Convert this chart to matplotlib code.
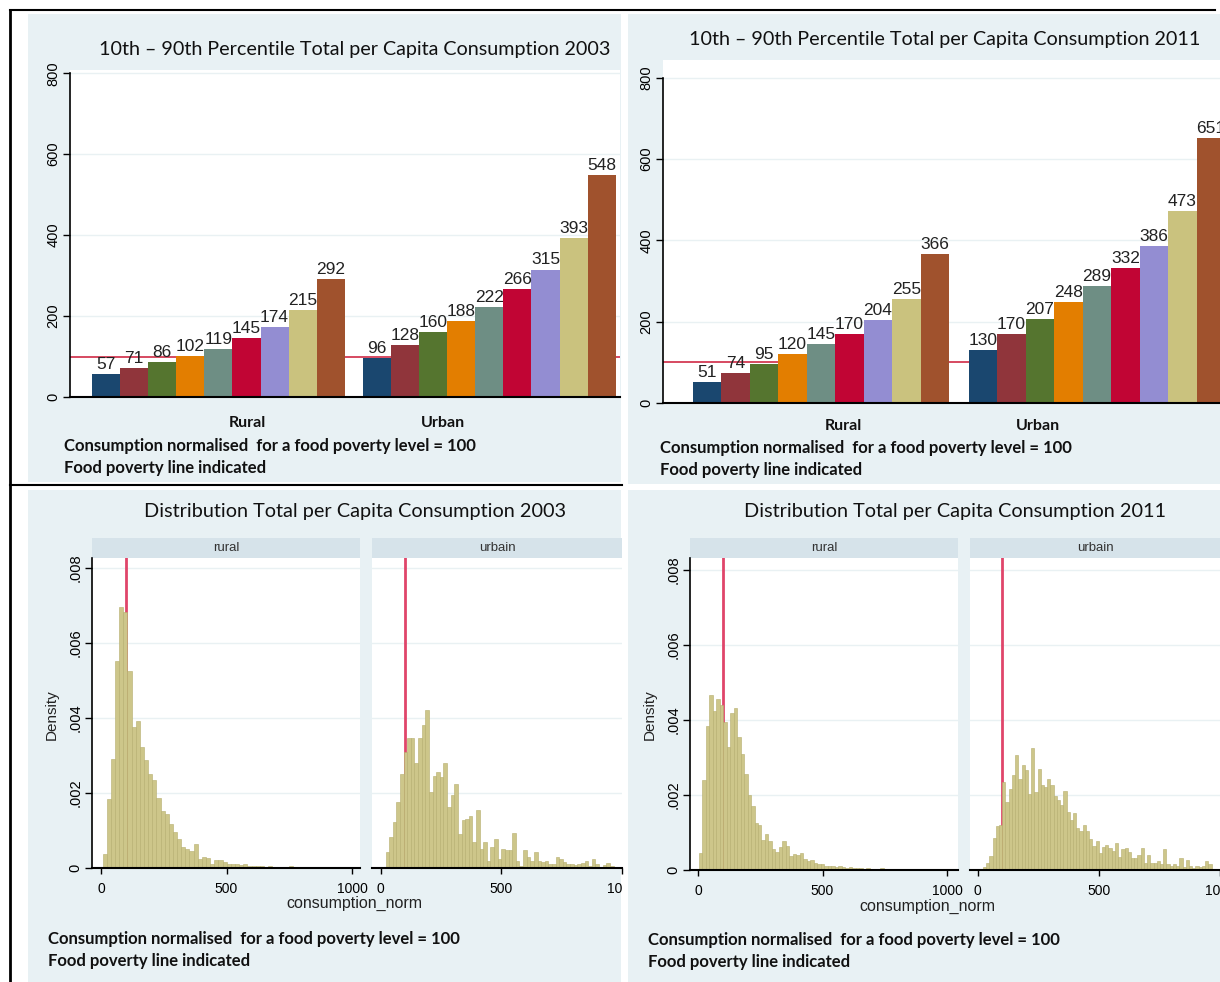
import numpy as np
import matplotlib
matplotlib.use('Agg')
import matplotlib.pyplot as plt
from matplotlib.patches import Rectangle
from matplotlib.lines import Line2D
from matplotlib.transforms import Bbox

W, H = 1220, 982

# ---- percentile bar data (10th..90th) ----
groups = ['Rural', 'Urban']
pct_rural_2003 = [57, 71, 86, 102, 119, 145, 174, 215, 292]
pct_urban_2003 = [96, 128, 160, 188, 222, 266, 315, 393, 548]
pct_rural_2011 = [51, 74, 95, 120, 145, 170, 204, 255, 366]
pct_urban_2011 = [130, 170, 207, 248, 289, 332, 386, 473, 651]
poverty_line = 100
bar_colors = ['#1a476f', '#90353b', '#55752f', '#e37e00', '#6e8e84',
              '#c10534', '#938dd2', '#cac27e', '#a0522d']

# ---- histogram densities (x 1e-3), read per bin ----
rural_2003_start, rural_2003_width = 6, 16.5
rural_2003 = [0.37, 1.84, 2.92, 5.53, 6.97, 6.84, 5.26, 3.75, 3.91, 3.22, 2.88, 2.51,
              2.35, 1.88, 1.51, 1.45, 1.17, 0.95, 0.77, 0.55, 0.51, 0.46, 0.64, 0.24,
              0.30, 0.28, 0.11, 0.21, 0.21, 0.15, 0.11, 0.12, 0.12, 0.08, 0.10, 0.06,
              0.06, 0.05, 0.05, 0.04, 0.05, 0.03, 0.04, 0.03, 0.02, 0.05, 0.02, 0.03,
              0.02, 0.03, 0.02, 0.02, 0.04, 0.02, 0.02, 0.01, 0.02, 0.02, 0.01, 0.02]

urban_2003_start, urban_2003_width = 20, 15
urban_2003 = [0.42, 0.82, 1.23, 1.76, 2.52, 3.10, 3.46, 3.46, 2.79, 3.46, 3.82, 4.22,
              2.03, 2.45, 2.57, 2.43, 2.79, 1.63, 1.94, 2.25, 0.91, 1.27, 1.32, 1.40,
              0.69, 1.56, 0.51, 0.69, 0.20, 0.55, 0.78, 0.24, 0.51, 0.47, 0.47, 0.93,
              0.20, 0.06, 0.47, 0.29, 0.20, 0.42, 0.20, 0.15, 0.20, 0.11, 0.11, 0.29,
              0.24, 0.15, 0.11, 0.11, 0.08, 0.11, 0.13, 0.20, 0.06, 0.24, 0.11, 0.04,
              0.09, 0.13, 0.06]

rural_2011_start, rural_2011_width = 3, 14
rural_2011 = [0.45, 2.40, 3.85, 4.68, 4.25, 4.56, 4.40, 3.95, 3.28, 4.18, 4.32, 3.55,
              3.10, 2.55, 2.00, 1.70, 1.25, 1.20, 0.80, 0.95, 0.78, 0.55, 0.48, 0.62,
              0.78, 0.65, 0.38, 0.42, 0.40, 0.45, 0.30, 0.24, 0.26, 0.20, 0.15, 0.15,
              0.12, 0.12, 0.10, 0.08, 0.10, 0.07, 0.06, 0.08, 0.06, 0.05, 0.06, 0.04,
              0.05, 0.04, 0.04, 0.03, 0.05, 0.03, 0.03, 0.04, 0.02, 0.03, 0.02, 0.03,
              0.02, 0.02, 0.03, 0.02, 0.01, 0.02, 0.02, 0.01, 0.01, 0.02, 0.01]

urban_2011_start, urban_2011_width = 21, 13.3
urban_2011 = [0.09, 0.18, 0.38, 0.86, 1.17, 1.19, 2.35, 1.82, 2.16, 2.53, 3.07, 2.44,
              2.79, 2.68, 2.04, 3.25, 2.09, 2.70, 2.28, 2.22, 2.44, 2.26, 1.98, 1.87,
              1.74, 2.11, 1.56, 1.34, 1.52, 1.12, 1.04, 1.19, 1.04, 0.82, 0.64, 0.77,
              0.45, 0.62, 0.66, 0.60, 0.52, 0.72, 0.36, 0.55, 0.60, 0.49, 0.32, 0.32,
              0.41, 0.58, 0.19, 0.41, 0.19, 0.19, 0.23, 0.15, 0.55, 0.15, 0.10, 0.15,
              0.12, 0.32, 0.09, 0.28, 0.10, 0.06, 0.10, 0.09, 0.10, 0.23, 0.15]

note1 = 'Consumption normalised  for a food poverty level = 100'
note2 = 'Food poverty line indicated'

BG = '#e8f1f4'
STRIP = '#d6e3ea'
GRID = '#e9f1f3'
HIST = '#cdc68a'
RED_TOP = '#d02a45'
RED_HIST = '#e0456a'
TITLE_FONT = ['Lato', 'DejaVu Sans']

plt.rcParams['font.family'] = ['Liberation Sans', 'DejaVu Sans']

fig = plt.figure(figsize=(W / 100, H / 100), dpi=100)


def box(x0, y0, x1, y1):
    return [x0 / W, 1 - y1 / H, (x1 - x0) / W, (y1 - y0) / H]


def rect(x0, y0, x1, y1, color):
    fig.add_artist(Rectangle((x0 / W, 1 - y1 / H), (x1 - x0) / W, (y1 - y0) / H,
                             transform=fig.transFigure, color=color, lw=0, zorder=-5))


def line(x0, y0, x1, y1, lw=1.5):
    fig.add_artist(Line2D([x0 / W, x1 / W], [1 - y0 / H, 1 - y1 / H],
                          transform=fig.transFigure, color='black', lw=lw, zorder=10))


def text(x, y, s, **kw):
    return fig.text(x / W, 1 - y / H, s, **kw)


# backgrounds
rect(28, 14, 621, 482, BG)
rect(628, 14, 1220, 484, BG)
rect(28, 490, 621, 982, BG)
rect(628, 490, 1220, 982, BG)

# frame
line(10, 10, 10, 982, lw=2)
line(10, 10, 1215, 10)
line(10, 485, 622, 485)


def bar_panel(b, rural, urban, offset, xlim, ytop, title, title_xy, rural_x, urban_x, lab_y, note_x, note_y):
    ax = fig.add_axes(box(*b))
    pos_r = np.arange(len(rural))
    pos_u = np.arange(len(urban)) + offset
    ax.axhline(poverty_line, color=RED_TOP, lw=1.2, zorder=1)
    ax.bar(pos_r, rural, width=1.0, color=bar_colors, zorder=2)
    ax.bar(pos_u, urban, width=1.0, color=bar_colors, zorder=2)
    for p, v in list(zip(pos_r, rural)) + list(zip(pos_u, urban)):
        ax.text(p, v + 5, str(v), ha='center', va='bottom', fontsize=12.5,
                color='#222222', zorder=3)
    ax.set_xlim(*xlim)
    ax.set_ylim(0, ytop)
    ax.set_yticks([0, 200, 400, 600, 800])
    ax.set_xticks([])
    ax.grid(axis='y', color=GRID, lw=1)
    ax.set_axisbelow(True)
    for s in ['top', 'right']:
        ax.spines[s].set_visible(False)
    ax.spines['left'].set_bounds(0, 800)
    ax.spines['left'].set_linewidth(1.2)
    ax.spines['bottom'].set_linewidth(1.5)
    ax.tick_params(axis='y', labelrotation=90, labelsize=10.5, length=5, width=1, pad=2)
    for t in ax.get_yticklabels():
        t.set_va('center')
    text(title_xy[0], title_xy[1], title, ha='center', va='center', fontsize=14.2,
         family=TITLE_FONT, color='#111111')
    text(rural_x, lab_y, groups[0], ha='center', va='center', fontsize=11.5,
         family=TITLE_FONT, weight='bold', color='#111111')
    text(urban_x, lab_y, groups[1], ha='center', va='center', fontsize=11.5,
         family=TITLE_FONT, weight='bold', color='#111111')
    text(note_x, note_y, note1, ha='left', va='center', fontsize=12,
         family=TITLE_FONT, weight='bold', color='#111111')
    text(note_x, note_y + 22, note2, ha='left', va='center', fontsize=12,
         family=TITLE_FONT, weight='bold', color='#111111')


bar_panel((70, 70, 620, 397), pct_rural_2003, pct_urban_2003, 9.64, (-1.28, 18.29), 808,
          '10th \u2013 90th Percentile Total per Capita Consumption 2003', (355, 50),
          247, 443, 423, 64, 446)
bar_panel((663, 60, 1220, 403), pct_rural_2011, pct_urban_2011, 9.68, (-1.544, 18.0), 844,
          '10th \u2013 90th Percentile Total per Capita Consumption 2011', (945, 39),
          843, 1038, 426, 660, 448)


def hist_panel(b, heights, start, width, xlim, ytop, label, show_y, clip_right=None):
    ax = fig.add_axes(box(*b))
    dens = np.array(heights) / 1000.0
    edges = start + width * np.arange(len(dens))
    ax.axvline(poverty_line, color=RED_HIST, lw=2, zorder=1)
    ax.bar(edges, dens, width=width, align='edge', color=HIST,
           edgecolor='#b5ad6c', lw=0.4, zorder=2)
    ax.set_xlim(*xlim)
    ax.set_ylim(0, ytop)
    ax.set_yticks([0, 0.002, 0.004, 0.006, 0.008])
    ax.set_yticklabels(['0', '.002', '.004', '.006', '.008'])
    ax.set_xticks([0, 500, 1000])
    ax.grid(axis='y', color=GRID, lw=1)
    ax.set_axisbelow(True)
    for s in ['top', 'right']:
        ax.spines[s].set_visible(False)
    ax.spines['bottom'].set_linewidth(1.5)
    ax.tick_params(axis='x', labelsize=10, length=4, width=1, pad=6)
    if show_y:
        ax.spines['left'].set_linewidth(1.2)
        ax.tick_params(axis='y', labelrotation=90, labelsize=10.5, length=5, width=1, pad=2)
        for t in ax.get_yticklabels():
            t.set_va('center')
    else:
        ax.spines['left'].set_visible(False)
        ax.tick_params(axis='y', left=False, labelleft=False)
    if clip_right is not None:
        # the source image is cropped at the panel edge
        clip = Bbox.from_extents(0, 0, clip_right, H)
        for t in ax.get_xticklabels():
            t.set_clip_box(clip)
            t.set_clip_on(True)
    # strip above the panel
    rect(b[0], b[1] - 20, b[2], b[1], STRIP)
    text((b[0] + b[2]) / 2, b[1] - 10, label, ha='center', va='center',
         fontsize=9.5, color='#333333')
    return ax


hist_panel((92, 558, 360, 868), rural_2003, rural_2003_start, rural_2003_width,
           (-36, 1032), 0.00827, 'rural', True)
hist_panel((372, 558, 622, 868), urban_2003, urban_2003_start, urban_2003_width,
           (-36, 958), 0.00827, 'urbain', False, clip_right=622)
hist_panel((690, 558, 958, 870), rural_2011, rural_2011_start, rural_2011_width,
           (-32, 1044), 0.00832, 'rural', True)
hist_panel((970, 558, 1220, 870), urban_2011, urban_2011_start, urban_2011_width,
           (-32, 972), 0.00832, 'urbain', False)

for cx, yr, dx, cnx, cny, nx, ny in [(355, '2003', 52, 354, 903, 48, 939),
                                     (955, '2011', 650, 927, 906, 648, 940)]:
    text(cx, 512, 'Distribution Total per Capita Consumption ' + yr, ha='center',
         va='center', fontsize=14.3, family=TITLE_FONT, color='#111111')
    text(dx, 715, 'Density', rotation=90, ha='center', va='center', fontsize=11,
         color='#222222')
    text(cnx, cny, 'consumption_norm', ha='center', va='center', fontsize=11.5,
         color='#222222')
    text(nx, ny, note1, ha='left', va='center', fontsize=12, family=TITLE_FONT,
         weight='bold', color='#111111')
    text(nx, ny + 22, note2, ha='left', va='center', fontsize=12, family=TITLE_FONT,
         weight='bold', color='#111111')

fig.savefig('out.png', dpi=100)
